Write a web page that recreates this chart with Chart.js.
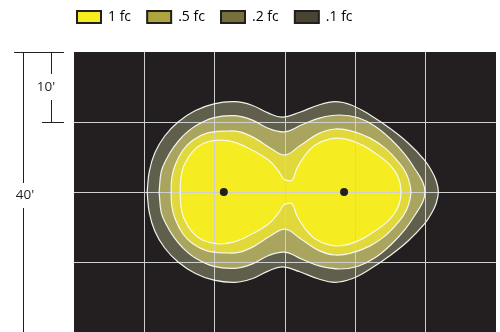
<!DOCTYPE html>
<html>
<head>
<meta charset="utf-8">
<script src="https://cdn.jsdelivr.net/npm/chart.js@4/dist/chart.umd.min.js"></script>
<style>
  html, body { margin: 0; padding: 0; background: #fff; }
</style>
</head>
<body>
<canvas id="plan" width="500" height="332"></canvas>
<script>
// Isofootcandle plot, coordinates in feet. Contours.
const levels = ['1 fc', '.5 fc', '.2 fc', '.1 fc'];
const legendColors = ['#f6ec1e', '#aea43e', '#756e3d', '#4a4433'];
const bandColors = ['#f5ec22', '#e1d93c', '#a9a55e', '#5f5f4c'];
const xRange = [0, 60];
const yRange = [0, 40];
const fixtures = [[21.3, 20], [38.4, 20]];

const contour1 = [
  [15.1, 20], [15.2, 22.0], [15.6, 23.7], [16.8, 25.7], [18.3, 26.9], [20.5, 27.4], [22.9, 27.1], [25.3, 26.0],
  [27.6, 24.6], [29.0, 23.1], [29.7, 22.0], [30.1, 21.7], [31.0, 21.7], [31.7, 23.4], [32.9, 25.3], [34.3, 26.7],
  [36.4, 27.6], [38.5, 27.6], [41.0, 26.7], [43.2, 25.3], [44.9, 23.9], [46.1, 22.1], [46.5, 20],
  [46.1, 17.9], [44.9, 16.1], [43.2, 14.7], [41.0, 13.3], [38.5, 12.4], [36.4, 12.4], [34.3, 13.3], [32.9, 14.7],
  [31.7, 16.6], [31.0, 18.3], [30.1, 18.3], [29.7, 18.0], [29.0, 16.9], [27.6, 15.4], [25.3, 14.0], [22.9, 12.9],
  [20.5, 12.6], [18.3, 13.1], [16.8, 14.3], [15.6, 16.3], [15.2, 18.0], [15.1, 20]
];
const contourHalf = [
  [13.8, 20], [13.9, 22.0], [14.4, 23.9], [15.5, 26.0], [16.9, 27.4], [18.9, 28.4], [21.5, 28.7], [23.6, 28.6],
  [25.7, 27.7], [27.9, 26.3], [30.0, 25.3], [32.1, 26.6], [34.7, 28.3], [37.1, 29.0], [39.5, 28.7], [42.1, 27.7],
  [44.2, 26.3], [45.6, 24.9], [46.8, 23.4], [47.5, 22.0], [47.9, 20],
  [47.5, 18.0], [46.8, 16.6], [45.6, 15.1], [44.2, 13.7], [42.1, 12.3], [39.5, 11.3], [37.1, 11.0], [34.7, 11.7],
  [32.1, 13.4], [30.0, 14.7], [27.9, 13.7], [25.7, 12.3], [23.6, 11.4], [21.5, 11.3], [18.9, 11.6], [16.9, 12.6],
  [15.5, 14.0], [14.4, 16.1], [13.9, 18.0], [13.8, 20]
];
const contourFifth = [
  [12.1, 20], [12.4, 22.9], [13.1, 24.6], [14.1, 26.3], [15.4, 27.9], [17.2, 29.4], [19.8, 30.6], [22.9, 30.9],
  [25.3, 30.3], [27.6, 29.1], [30.0, 28.6], [32.4, 29.6], [35.0, 30.6], [37.8, 31.0], [40.4, 30.6], [42.8, 29.4],
  [45.2, 27.4], [47.1, 25.3], [48.6, 23.1], [49.6, 21.4], [49.9, 20],
  [49.6, 18.6], [48.6, 16.9], [47.1, 14.7], [45.2, 12.6], [42.8, 10.6], [40.4, 9.4], [37.8, 9.0], [35.0, 9.4],
  [32.4, 10.4], [30.0, 11.4], [27.6, 10.9], [25.3, 9.7], [22.9, 9.1], [19.8, 9.4], [17.2, 10.6], [15.4, 12.1],
  [14.1, 13.7], [13.1, 15.4], [12.4, 17.1], [12.1, 20]
];
const contourTenth = [
  [10.4, 20], [10.7, 22.9], [11.5, 25.6], [12.9, 28.0], [14.8, 30.0], [17.2, 31.6], [19.9, 32.6], [22.9, 32.9],
  [25.3, 32.4], [27.6, 31.3], [29.6, 30.7], [32.1, 31.4], [34.7, 32.4], [37.1, 32.9], [39.5, 32.4], [42.1, 31.0],
  [44.9, 29.1], [47.5, 27.0], [49.8, 24.6], [50.8, 23.1], [51.5, 21.6], [51.8, 20],
  [51.5, 18.4], [50.8, 16.9], [49.8, 15.4], [47.5, 13.0], [44.9, 10.9], [42.1, 9.0], [39.5, 7.6], [37.1, 7.1], [34.7, 7.6],
  [32.1, 8.6], [29.6, 9.3], [27.6, 8.7], [25.3, 7.6], [22.9, 7.1], [19.9, 7.4], [17.2, 8.4], [14.8, 10.0],
  [12.9, 12.0], [11.5, 14.4], [10.7, 17.1], [10.4, 20]
];

const ink = '#231f20';
const font = "'Open Sans', sans-serif";
const pts = (arr) => arr.map(([x, y]) => ({ x, y }));

const contours = [contour1, contourHalf, contourFifth, contourTenth];
const datasets = contours.map((c, i) => ({
  label: levels[i],
  data: pts(c),
  showLine: true,
  fill: 'shape',
  backgroundColor: bandColors[i],
  borderColor: 'rgba(250,250,245,0.95)',
  borderWidth: 1.2,
  tension: 0.4,
  pointRadius: 0,
}));

// dark floor: the whole plotted area, filled first
datasets.push({
  label: 'floor',
  data: pts([[xRange[0], yRange[0]], [xRange[1], yRange[0]], [xRange[1], yRange[1]], [xRange[0], yRange[1]], [xRange[0], yRange[0]]]),
  showLine: true,
  fill: 'shape',
  backgroundColor: ink,
  borderWidth: 0,
  tension: 0,
  pointRadius: 0,
});

datasets.push({
  label: 'fixtures',
  data: pts(fixtures),
  pointRadius: 4,
  pointBackgroundColor: ink,
  pointBorderWidth: 0,
});

const gridColor = (max) => (c) => (c.tick && (c.tick.value === 0 || c.tick.value === max)) ? 'rgba(0,0,0,0)' : '#cfcfcf';

// 10' and 40' dimension marks left of the plan
const dimensions = {
  id: 'dimensions',
  afterDraw(chart) {
    const { ctx, chartArea } = chart;
    const y = chart.scales.y;
    const left = chartArea.left;
    const top = y.getPixelForValue(40);
    const ten = y.getPixelForValue(30);
    const bottom = y.getPixelForValue(0);
    const mid10 = (top + ten) / 2;
    const mid40 = y.getPixelForValue(20) + 3;
    ctx.save();
    ctx.strokeStyle = ink;
    ctx.lineWidth = 1;
    ctx.beginPath();
    ctx.moveTo(left - 60, top + 0.5); ctx.lineTo(left - 10, top + 0.5);
    ctx.moveTo(left - 32, ten + 0.5); ctx.lineTo(left - 10, ten + 0.5);
    ctx.moveTo(left - 50.5, top); ctx.lineTo(left - 50.5, mid40 - 12);
    ctx.moveTo(left - 50.5, mid40 + 13); ctx.lineTo(left - 50.5, bottom);
    ctx.moveTo(left - 22.5, top); ctx.lineTo(left - 22.5, mid10 - 13);
    ctx.moveTo(left - 22.5, mid10 + 13); ctx.lineTo(left - 22.5, ten);
    ctx.stroke();
    ctx.fillStyle = ink;
    ctx.font = '13.5px ' + font;
    ctx.textAlign = 'center';
    ctx.textBaseline = 'middle';
    ctx.fillText("10'", left - 28, mid10);
    ctx.fillText("40'", left - 49, mid40);
    ctx.restore();
  }
};

new Chart(document.getElementById('plan'), {
  type: 'scatter',
  data: { datasets },
  options: {
    responsive: false,
    animation: false,
    events: [],
    layout: { autoPadding: false, padding: { top: -6.1, left: 60.9, right: 4, bottom: 0 } },
    scales: {
      x: {
        type: 'linear', position: 'top', min: xRange[0], max: xRange[1],
        ticks: { display: false, stepSize: 10 },
        grid: { color: gridColor(xRange[1]), lineWidth: 1, drawTicks: false },
        border: { display: false },
        afterFit: (s) => { s.height = 18; },
      },
      y: {
        type: 'linear', min: yRange[0], max: yRange[1],
        ticks: { display: false, stepSize: 10 },
        grid: { color: gridColor(yRange[1]), lineWidth: 1, drawTicks: false },
        border: { display: false },
        afterFit: (s) => { s.width = 13.1; },
      },
    },
    plugins: {
      filler: { drawTime: 'beforeDraw' },
      tooltip: { enabled: false },
      legend: {
        position: 'top',
        align: 'start',
        labels: {
          boxWidth: 24,
          boxHeight: 12,
          padding: 16.1,
          color: ink,
          font: { family: font, size: 14 },
          generateLabels: () => levels.map((t, i) => ({
            text: t, fillStyle: legendColors[i], strokeStyle: ink, lineWidth: 2, hidden: false, datasetIndex: i,
          })),
        },
      },
    },
  },
  plugins: [dimensions],
});
</script>
</body>
</html>
